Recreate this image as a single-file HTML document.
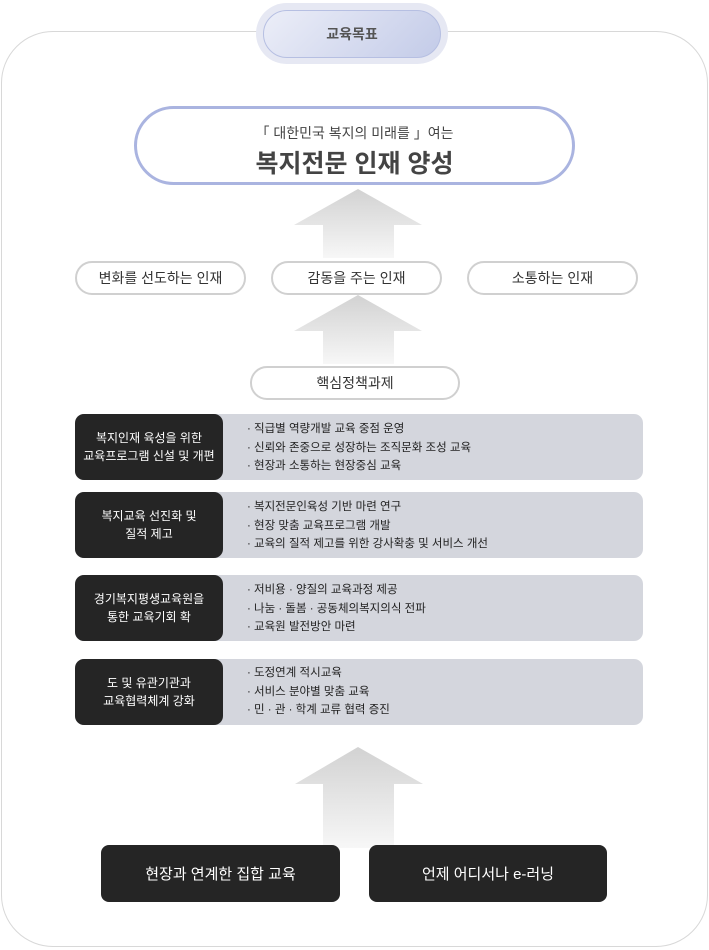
<!DOCTYPE html>
<html><head><meta charset="utf-8"><style>
*{margin:0;padding:0;box-sizing:border-box}
body{width:709px;height:950px;background:#fff;position:relative;overflow:hidden;font-family:"Liberation Sans","Noto Sans CJK KR",sans-serif;color:#333}
.a{position:absolute}
.outer{left:1px;top:31px;width:707px;height:916px;border:1px solid #d8d8d8;border-radius:52px}
.halo{left:256px;top:3px;width:192px;height:61px;border-radius:31px;background:#e6e8f3}
.top{left:263px;top:10px;width:178px;height:48px;border-radius:24px;background:linear-gradient(135deg,#eceef8,#c3cbe8);border:1px solid #b6bfe2;display:flex;align-items:center;justify-content:center;font-size:14px;font-weight:bold;color:#555}
.main{left:134px;top:106px;width:441px;height:79px;border:3px solid #aab4e0;border-radius:40px;background:#fff;text-align:center}
.pill{height:34px;border:2px solid #d0d0d0;border-radius:17px;background:#fff;display:flex;align-items:center;justify-content:center;font-size:14px;color:#333}
.row{left:75px;width:568px;height:66px;background:#d4d6dd;border-radius:9px}
.blk{left:75px;width:148px;height:66px;background:#252525;border-radius:9px;color:#fff;font-size:12px;display:flex;align-items:center;justify-content:center;text-align:center;line-height:18px}
.txt{left:247px;font-size:11.5px;line-height:18.5px;color:#222}
.bot{height:57px;background:#252525;border-radius:8px;color:#fff;font-size:15px;display:flex;align-items:center;justify-content:center}
</style></head><body>
<div class="a outer"></div>
<div class="a halo"></div>
<div class="a top">교육목표</div>
<svg class="a" style="left:0;top:0" width="709" height="950">
<defs><linearGradient id="g" x1="0" y1="0" x2="0" y2="1"><stop offset="0" stop-color="#d2d2d2"/><stop offset="1" stop-color="#f7f7f7"/></linearGradient></defs>
<polygon points="358,189 422,225 394,225 394,258 323,258 323,225 294,225" fill="url(#g)"/>
<polygon points="358,295 422,331 394,331 394,364 323,364 323,331 294,331" fill="url(#g)"/>
<polygon points="358,747 423,784 394,784 394,848 323,848 323,784 295,784" fill="url(#g)"/>
</svg>
<div class="a main"><div style="margin-top:14px;font-size:14px;color:#444">「 대한민국 복지의 미래를 」여는</div><div style="font-size:25px;font-weight:bold;color:#444;margin-top:1px">복지전문 인재 양성</div></div>
<div class="a pill" style="left:75px;top:261px;width:171px">변화를 선도하는 인재</div>
<div class="a pill" style="left:271px;top:261px;width:171px">감동을 주는 인재</div>
<div class="a pill" style="left:467px;top:261px;width:171px">소통하는 인재</div>
<div class="a pill" style="left:250px;top:366px;width:210px">핵심정책과제</div>

<div class="a row" style="top:414px"></div><div class="a blk" style="top:414px">복지인재 육성을 위한<br>교육프로그램 신설 및 개편</div>
<div class="a txt" style="top:420px">· 직급별 역량개발 교육 중점 운영<br>· 신뢰와 존중으로 성장하는 조직문화 조성 교육<br>· 현장과 소통하는 현장중심 교육</div>
<div class="a row" style="top:492px"></div><div class="a blk" style="top:492px">복지교육 선진화 및<br>질적 제고</div>
<div class="a txt" style="top:498px">· 복지전문인육성 기반 마련 연구<br>· 현장 맞춤 교육프로그램 개발<br>· 교육의 질적 제고를 위한 강사확충 및 서비스 개선</div>
<div class="a row" style="top:575px"></div><div class="a blk" style="top:575px">경기복지평생교육원을<br>통한 교육기회 확</div>
<div class="a txt" style="top:581px">· 저비용 · 양질의 교육과정 제공<br>· 나눔 · 돌봄 · 공동체의복지의식 전파<br>· 교육원 발전방안 마련</div>
<div class="a row" style="top:659px"></div><div class="a blk" style="top:659px">도 및 유관기관과<br>교육협력체계 강화</div>
<div class="a txt" style="top:664px">· 도정연계 적시교육<br>· 서비스 분야별 맞춤 교육<br>· 민 · 관 · 학계 교류 협력 증진</div>

<div class="a bot" style="left:101px;top:845px;width:239px">현장과 연계한 집합 교육</div>
<div class="a bot" style="left:369px;top:845px;width:238px">언제 어디서나 e-러닝</div>
</body></html>
